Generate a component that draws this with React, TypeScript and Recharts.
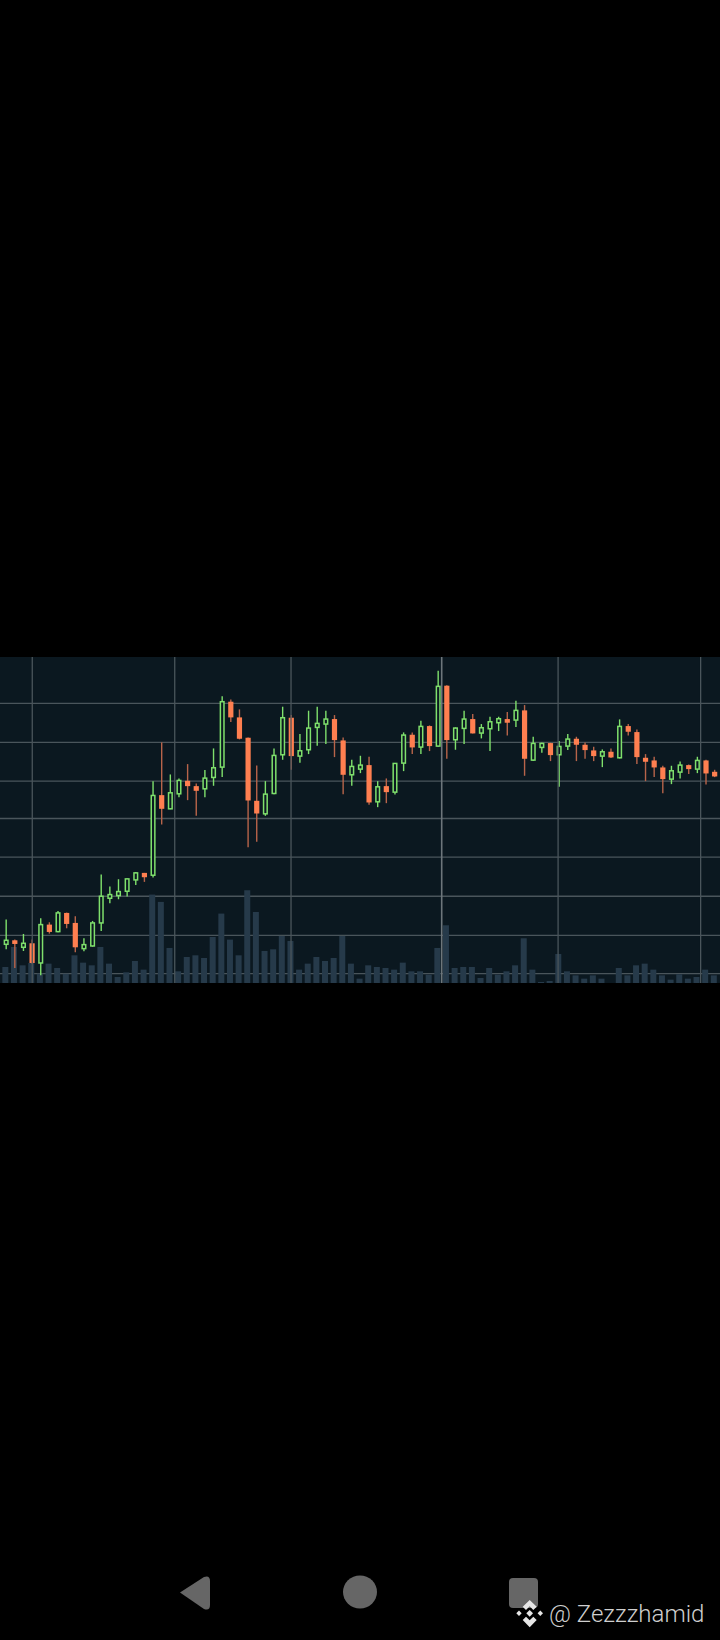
import { Bar, CartesianGrid, ComposedChart, ReferenceLine, XAxis, YAxis } from "recharts";

// readings from the picture, price axis is unlabelled so units are relative
const highs = [190, 130, 147, 130, 194, 182, 216, 211, 200, 134, 186, 325, 289, 311, 313, 333, 330, 605, 721, 625, 613, 656, 598, 638, 703, 859, 850, 820, 736, 652, 605, 703, 828, 803, 746, 816, 828, 816, 803, 736, 669, 681, 678, 605, 613, 659, 751, 751, 786, 772, 936, 892, 766, 816, 806, 776, 798, 798, 812, 846, 833, 738, 720, 720, 725, 746, 738, 721, 708, 700, 703, 790, 776, 760, 686, 678, 651, 651, 664, 655, 678, 669, 639];
const lows = [101, 45, 96, 58, 23, 148, 152, 164, 92, 95, 109, 156, 239, 251, 259, 294, 303, 316, 475, 521, 557, 548, 501, 557, 591, 617, 782, 730, 407, 423, 501, 566, 669, 639, 660, 686, 711, 716, 677, 566, 591, 629, 534, 527, 539, 565, 635, 686, 686, 695, 708, 672, 699, 716, 748, 733, 695, 755, 742, 767, 621, 665, 690, 665, 588, 698, 665, 672, 665, 647, 674, 673, 742, 656, 605, 617, 569, 596, 613, 626, 629, 595, 617];
const bodyTops = [128, 128, 119, 119, 175, 175, 210, 210, 180, 115, 180, 260, 265, 274, 312, 330, 330, 562, 563, 570, 607, 606, 590, 614, 645, 843, 843, 796, 735, 546, 566, 682, 795, 795, 696, 764, 778, 791, 791, 727, 649, 653, 653, 588, 590, 658, 743, 744, 769, 770, 889, 891, 764, 791, 791, 765, 783, 792, 791, 817, 817, 718, 718, 719, 709, 731, 732, 714, 697, 693, 693, 769, 770, 752, 675, 667, 646, 636, 653, 653, 667, 667, 633];
const bodyBottoms = [116, 117, 107, 60, 60, 153, 154, 177, 107, 103, 111, 180, 254, 262, 275, 309, 317, 323, 522, 522, 567, 590, 576, 582, 616, 647, 796, 732, 547, 508, 507, 568, 684, 680, 680, 699, 766, 776, 728, 624, 624, 641, 541, 543, 572, 572, 659, 706, 707, 710, 710, 728, 729, 763, 748, 749, 762, 780, 780, 788, 672, 668, 706, 683, 684, 710, 714, 698, 680, 680, 676, 675, 753, 677, 663, 646, 611, 611, 632, 641, 641, 628, 619];
const volumes = [48, 108, 53, 60, 28, 58, 45, 28, 83, 61, 53, 108, 58, 18, 32, 66, 40, 265, 243, 105, 35, 78, 83, 75, 138, 208, 130, 83, 278, 213, 96, 101, 141, 126, 40, 58, 78, 66, 75, 141, 58, 13, 53, 48, 45, 40, 61, 35, 35, 25, 105, 173, 45, 48, 48, 15, 45, 25, 35, 53, 134, 40, 3, 6, 87, 35, 23, 13, 23, 13, 0, 45, 23, 53, 58, 40, 23, 10, 26, 13, 18, 40, 23];
const upSlots = [0, 2, 4, 6, 9, 10, 11, 12, 13, 14, 15, 17, 19, 20, 23, 24, 25, 30, 31, 32, 34, 35, 36, 37, 40, 41, 43, 45, 46, 48, 50, 52, 53, 55, 56, 57, 59, 61, 62, 64, 65, 69, 71, 77, 78, 80];
const gridPrices = [954, 838, 721, 605, 493, 377, 260, 143, 28];
const gridSlots = [3.04, 19.53, 32.99, 50.43, 63.9, 80.4];

const candles = highs.map((high, i) => ({
  slot: i,
  range: [lows[i], high],
  top: bodyTops[i],
  bottom: bodyBottoms[i],
  up: upSlots.includes(i),
  volume: volumes[i],
}));

const BG = "#0b1820";
const GREEN = "#7fe06c";
const ORANGE = "#ff7f50";
const GRID = "#4a555b";

function Candle(props: any) {
  const { x, y, width, height, payload } = props;
  const { range, top, bottom, up } = payload;
  const perUnit = height / (range[1] - range[0]);
  const bodyY = y + (range[1] - top) * perUnit;
  const bodyH = Math.max((top - bottom) * perUnit, 1);
  const cx = x + width / 2;
  return (
    <g>
      <line x1={cx} x2={cx} y1={y} y2={y + height} stroke={up ? GREEN : "#b8644a"} strokeWidth={1.4} />
      {up ? (
        <rect x={cx - 1.8} y={bodyY} width={3.6} height={bodyH} fill={BG} stroke={GREEN} strokeWidth={1.5} />
      ) : (
        <rect x={cx - 2.6} y={bodyY} width={5.2} height={bodyH} fill={ORANGE} />
      )}
    </g>
  );
}

export default function App() {
  return (
    <div style={{ position: "fixed", left: 0, top: 0, width: 720, height: 1640, background: "#000", overflow: "hidden" }}>
      <div style={{ position: "absolute", left: 0, top: 657 }}>
        <ComposedChart width={720} height={326} data={candles} margin={{ top: 0, right: 0, bottom: 0, left: 0 }} style={{ background: BG }}>
          <XAxis xAxisId="candle" dataKey="slot" type="number" domain={[-0.694, 82.64]} hide allowDataOverflow />
          <XAxis xAxisId="vol" dataKey="slot" type="number" domain={[-0.654, 82.68]} hide allowDataOverflow />
          <YAxis yAxisId="price" domain={[0, 977]} hide allowDataOverflow />
          <YAxis yAxisId="volume" domain={[0, 977]} hide />
          <CartesianGrid stroke={GRID} strokeWidth={1.3} vertical={false} xAxisId="candle" yAxisId="price" horizontalValues={gridPrices} />
          <Bar xAxisId="vol" yAxisId="volume" dataKey="volume" fill="#263a4a" barSize={6} isAnimationActive={false} />
          {gridSlots.map((slot, i) => (
            <ReferenceLine key={slot} xAxisId="candle" yAxisId="price" x={slot} stroke={i === 3 ? "#6d767b" : GRID} strokeWidth={i === 3 ? 1.6 : 1.3} />
          ))}
          <Bar xAxisId="candle" yAxisId="price" dataKey="range" shape={<Candle />} barSize={7} isAnimationActive={false} />
        </ComposedChart>
      </div>

      {/* android nav buttons and the watermark */}
      <svg width={720} height={1640} style={{ position: "absolute", left: 0, top: 0 }}>
        <path d="M204 1577 L180 1592.5 L204 1609 Q210 1611 210 1605 L210 1581 Q210 1575 204 1577Z" fill="#666" />
        <ellipse cx={360} cy={1592} rx={17} ry={16.5} fill="#666" />
        <rect x={509} y={1578} width={29} height={30} rx={4} fill="#666" />
        <g fill="#e6e6e6">
          <path d="M529.7 1600 L536.7 1606.7 L533.3 1610 L529.7 1606.3 L526 1610 L522.7 1606.7Z" />
          <path d="M529.7 1627.3 L536.7 1620 L533.3 1616.7 L529.7 1620.3 L526 1616.7 L522.7 1620Z" />
          <path d="M529.7 1610 L533 1613.3 L529.7 1616.7 L526.3 1613.3Z" />
          <path d="M519 1610.6 L521.7 1613.3 L519 1616 L516.3 1613.3Z" />
          <path d="M540.3 1610.6 L543 1613.3 L540.3 1616 L537.6 1613.3Z" />
        </g>
      </svg>
      <div style={{ position: "absolute", left: 549, top: 1600, fontFamily: "Roboto, sans-serif", fontSize: 24, fontWeight: 300, color: "#cfcfcf", whiteSpace: "nowrap" }}>
        @ Zezzzhamid
      </div>
    </div>
  );
}
